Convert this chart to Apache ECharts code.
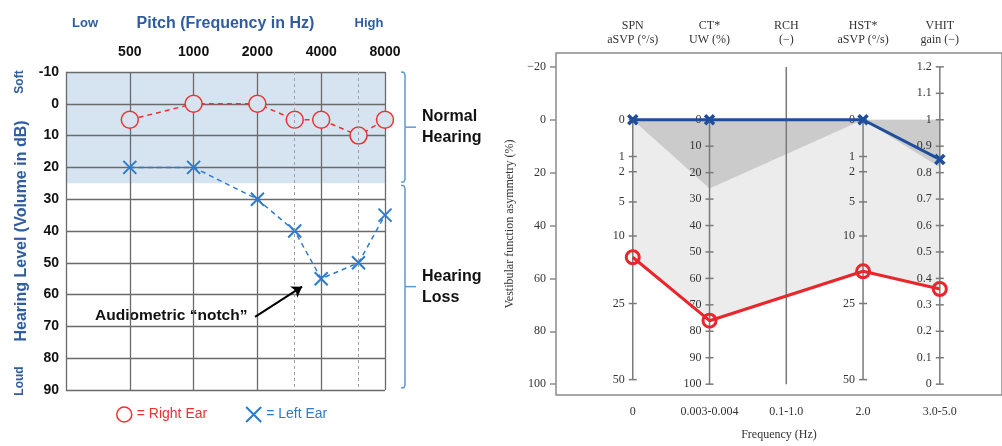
<!DOCTYPE html>
<html><head><meta charset="utf-8">
<script src="https://cdn.jsdelivr.net/npm/echarts@6/dist/echarts.min.js"></script>
<style>html,body{margin:0;padding:0;background:#fff}#c{width:1002px;height:446px}</style>
</head><body><div id="c"></div>
<script>
// ---------- Left chart: audiogram ----------
const freqs = [500, 1000, 2000, 3000, 4000, 6000, 8000];
const rightEar = [5, 0, 0, 5, 5, 10, 5];
const leftEar = [20, 20, 30, 40, 55, 50, 35];
const freqTickLabels = [500, 1000, 2000, 4000, 8000];
const dbTicks = [-10, 0, 10, 20, 30, 40, 50, 60, 70, 80, 90];
const interOctaveFreqs = [3000, 6000];
const normalRange = [-10, 25];
const lossRange = [25, 90];
const bracketLabels = ['Normal\nHearing', 'Hearing\nLoss'];
const notchArrow = [[1950, 67], [3250, 57.5]];

// ---------- Right chart: vestibular test battery ----------
const tests = ['SPN\naSVP (°/s)', 'CT*\nUW (%)', 'RCH\n(\u2212)', 'HST*\naSVP (°/s)', 'VHIT\ngain (\u2212)'];
const freqBands = ['0', '0.003-0.004', '0.1-1.0', '2.0', '3.0-5.0'];
const patientRed = [14, 76, null, 17, 0.36];
const patientBlue = [0, 0, null, 0, 0.85];
const normalLimit = [0, 26, null, 0, 0.82];
const asymTicks = [-20, 0, 20, 40, 60, 80, 100];
const spnTicks = [0, 1, 2, 5, 10, 25, 50];
const ctTicks = [0, 10, 20, 30, 40, 50, 60, 70, 80, 90, 100];
const hstTicks = [0, 1, 2, 5, 10, 25, 50];
const vhitTicks = [1.2, 1.1, 1, 0.9, 0.8, 0.7, 0.6, 0.5, 0.4, 0.3, 0.2, 0.1, 0];

// scale mappings from each test's native unit to asymmetry (%)
const sqrtMap = v => 13.9 * Math.sqrt(v);
const lin = v => v;
const vhitMap = v => (1 - v) * 100;
const maps = [sqrtMap, lin, lin, sqrtMap, vhitMap];
const axesDef = [
  { ticks: spnTicks, map: sqrtMap, range: [0, 50] },
  { ticks: ctTicks, map: lin, range: [0, 100] },
  { ticks: [], map: lin, range: [-20, 100] },
  { ticks: hstTicks, map: sqrtMap, range: [0, 50] },
  { ticks: vhitTicks, map: vhitMap, range: [1.2, 0] }
];

const fx = f => Math.log2(f / 250);
const BLUE_T = '#2F5D9F';
const SANS = '"Liberation Sans", Arial, sans-serif';
const SERIF = '"Liberation Serif", "Times New Roman", serif';
const toPts = vals => vals.map((v, i) => v === null ? null : [i, maps[i](v)]).filter(Boolean);

const chart = echarts.init(document.getElementById('c'), null, { renderer: 'canvas' });

const option = {
  animation: false,
  backgroundColor: '#fff',
  grid: [
    { left: 66, top: 72, width: 319, height: 318, show: false },
    { left: 556, top: 53, right: -2, bottom: 48, show: true, borderColor: '#8a8a8a', borderWidth: 1.5, backgroundColor: 'transparent' }
  ],
  xAxis: [
    {
      gridIndex: 0, type: 'value', position: 'top', min: 0, max: 5, interval: 1,
      name: 'Pitch (Frequency in Hz)', nameLocation: 'middle', nameGap: 40,
      nameTextStyle: { color: BLUE_T, fontSize: 16, fontWeight: 'bold', fontFamily: SANS },
      axisLine: { show: false, onZero: false }, axisTick: { show: false },
      axisLabel: {
        customValues: freqTickLabels.map(fx), margin: 13,
        formatter: v => String(Math.round(250 * Math.pow(2, v))),
        color: '#111', fontSize: 14, fontWeight: 'bold', fontFamily: SANS
      },
      splitLine: { show: true, lineStyle: { color: '#6a6a6a', width: 1.3 } }
    },
    {
      gridIndex: 1, type: 'value', position: 'bottom', min: -1, max: 4.81,
      name: 'Frequency (Hz)', nameLocation: 'middle', nameGap: 34,
      nameTextStyle: { color: '#333', fontSize: 12, fontFamily: SERIF },
      axisLine: { show: false, onZero: false }, axisTick: { show: false }, splitLine: { show: false },
      axisLabel: {
        customValues: [0, 1, 2, 3, 4], margin: 11,
        formatter: v => freqBands[Math.round(v)],
        color: '#333', fontSize: 12, fontFamily: SERIF
      }
    },
    {
      gridIndex: 1, type: 'value', position: 'top', min: -1, max: 4.81,
      axisLine: { show: false, onZero: false }, axisTick: { show: false }, splitLine: { show: false },
      axisLabel: {
        customValues: [0, 1, 2, 3, 4], margin: 6, lineHeight: 14,
        formatter: v => tests[Math.round(v)],
        color: '#333', fontSize: 12, fontFamily: SERIF
      }
    }
  ],
  yAxis: [
    {
      gridIndex: 0, type: 'value', inverse: true, min: -10, max: 90, interval: 10,
      name: 'Hearing Level (Volume in dB)', nameLocation: 'middle', nameGap: 36,
      nameTextStyle: { color: BLUE_T, fontSize: 16, fontWeight: 'bold', fontFamily: SANS },
      axisLine: { show: false, onZero: false }, axisTick: { show: false },
      axisLabel: { customValues: dbTicks, margin: 7, color: '#111', fontSize: 14, fontWeight: 'bold', fontFamily: SANS },
      splitLine: { show: true, lineStyle: { color: '#6a6a6a', width: 1.3 } }
    },
    {
      gridIndex: 1, type: 'value', inverse: true, min: -25.25, max: 104.1,
      name: 'Vestibular function asymmetry (%)', nameLocation: 'middle', nameGap: 40,
      nameTextStyle: { color: '#333', fontSize: 12, fontFamily: SERIF },
      axisLine: { show: false, onZero: false },
      axisTick: { show: true, customValues: asymTicks, length: 6, lineStyle: { color: '#8a8a8a', width: 1.5 } },
      axisLabel: {
        customValues: asymTicks, margin: 10,
        formatter: v => v < 0 ? '\u2212' + Math.abs(v) : String(v),
        color: '#333', fontSize: 12, fontFamily: SERIF
      },
      splitLine: { show: false }
    }
  ],
  legend: {
    left: 116, top: 406, padding: 0, itemGap: 38, itemWidth: 15, itemHeight: 15,
    textStyle: { fontSize: 14, fontFamily: SANS },
    formatter: n => '= ' + n,
    data: [
      { name: 'Right Ear', icon: 'circle', itemStyle: { color: 'rgba(0,0,0,0)', borderColor: '#EE3030', borderWidth: 1.5 }, textStyle: { color: '#EE3030' } },
      { name: 'Left Ear', icon: 'path://M0,0L10,10M10,0L0,10', itemStyle: { color: 'rgba(0,0,0,0)', borderColor: '#2B7BD0', borderWidth: 2 }, textStyle: { color: '#2B7BD0' } }
    ]
  },
  graphic: [
    { type: 'text', x: 85, y: 23, style: { text: 'Low', align: 'center', verticalAlign: 'middle', fill: BLUE_T, font: 'bold 13px ' + SANS } },
    { type: 'text', x: 369, y: 23, style: { text: 'High', align: 'center', verticalAlign: 'middle', fill: BLUE_T, font: 'bold 13px ' + SANS } },
    { type: 'text', x: 20, y: 82, rotation: Math.PI / 2, style: { text: 'Soft', align: 'center', verticalAlign: 'middle', fill: BLUE_T, font: 'bold 12px ' + SANS } },
    { type: 'text', x: 20, y: 381, rotation: Math.PI / 2, style: { text: 'Loud', align: 'center', verticalAlign: 'middle', fill: BLUE_T, font: 'bold 12px ' + SANS } },
    { type: 'text', x: 95, y: 316, style: { text: 'Audiometric \u201cnotch\u201d', align: 'left', verticalAlign: 'middle', fill: '#111', font: 'bold 15.5px ' + SANS } }
  ],
  series: [
    {
      name: 'normal zone', type: 'line', xAxisIndex: 0, yAxisIndex: 0, z: -1, silent: true,
      data: [[0, normalRange[1]], [5, normalRange[1]]], symbol: 'none',
      lineStyle: { width: 0 }, areaStyle: { color: '#D6E4F2', origin: 'start', opacity: 1 },
      markLine: {
        silent: true, symbol: 'none', label: { show: false },
        lineStyle: { color: '#a0a0a0', type: [3, 3], width: 1 },
        data: interOctaveFreqs.map(f => ({ xAxis: fx(f) }))
      }
    },
    {
      name: 'Right Ear', type: 'line', xAxisIndex: 0, yAxisIndex: 0, z: 3,
      data: freqs.map((f, i) => [fx(f), rightEar[i]]),
      symbol: 'circle', symbolSize: 17,
      itemStyle: { color: '#D6E4F2', borderColor: '#EE3030', borderWidth: 1.5 },
      lineStyle: { color: '#EE3030', width: 1.5, type: [5, 4] },
      markLine: {
        silent: true, symbol: ['none', 'arrow'], symbolSize: 10, label: { show: false },
        lineStyle: { color: '#000', width: 2, type: 'solid' },
        data: [[{ coord: [fx(notchArrow[0][0]), notchArrow[0][1]] }, { coord: [fx(notchArrow[1][0]), notchArrow[1][1]] }]]
      }
    },
    {
      name: 'Left Ear', type: 'line', xAxisIndex: 0, yAxisIndex: 0, z: 3,
      data: freqs.map((f, i) => [fx(f), leftEar[i]]),
      symbol: 'path://M0,0L10,10M10,0L0,10', symbolSize: 13,
      itemStyle: { color: 'rgba(0,0,0,0)', borderColor: '#2B7BD0', borderWidth: 2 },
      lineStyle: { color: '#2B7BD0', width: 1.5, type: [5, 4] }
    },
    {
      name: 'brackets', type: 'custom', xAxisIndex: 0, yAxisIndex: 0, clip: false, silent: true,
      data: [[0, normalRange[0], normalRange[1]], [1, lossRange[0], lossRange[1]]],
      renderItem: (params, api) => {
        const idx = api.value(0);
        const a = api.coord([5, api.value(1)]);
        const b = api.coord([5, api.value(2)]);
        const x0 = a[0] + 16, x1 = a[0] + 20, xn = a[0] + 31;
        const top = a[1] + (idx === 0 ? 0 : 2), bot = b[1] - (idx === 0 ? 1 : 2);
        const mid = (top + bot) / 2;
        const st = { stroke: '#5B9BD5', lineWidth: 1.5, fill: null };
        return {
          type: 'group', children: [
            { type: 'polyline', shape: { points: [[x0, top], [x1 - 1, top + 0.5], [x1, top + 3], [x1, bot - 3], [x1 - 1, bot - 0.5], [x0, bot]] }, style: st },
            { type: 'line', shape: { x1: x1, y1: mid, x2: xn, y2: mid }, style: st },
            { type: 'text', x: a[0] + 37, y: mid, style: { text: bracketLabels[idx], align: 'left', verticalAlign: 'middle', lineHeight: 21, fill: '#111', font: 'bold 16px ' + SANS } }
          ]
        };
      }
    },
    {
      name: 'patient area', type: 'line', xAxisIndex: 1, yAxisIndex: 1, z: 1, silent: true,
      data: toPts(patientRed), symbol: 'none', lineStyle: { width: 0 },
      areaStyle: { color: '#ECECEC', opacity: 1 }
    },
    {
      name: 'normal limit', type: 'line', xAxisIndex: 1, yAxisIndex: 1, z: 2, silent: true,
      data: toPts(normalLimit), symbol: 'none', lineStyle: { width: 0 },
      areaStyle: { color: '#CBCBCB', opacity: 1 }
    },
    {
      name: 'parallel axes', type: 'custom', xAxisIndex: 1, yAxisIndex: 1, z: 3, clip: false, silent: true,
      data: [[0, 0], [1, 0], [2, 0], [3, 0], [4, 0]],
      renderItem: (params, api) => {
        const i = api.value(0);
        const d = axesDef[i];
        const p0 = api.coord([i, d.map(d.range[0])]);
        const p1 = api.coord([i, d.map(d.range[1])]);
        const st = { stroke: '#7a7a7a', lineWidth: 1.5 };
        const ch = [{ type: 'line', shape: { x1: p0[0], y1: p0[1], x2: p1[0], y2: p1[1] }, style: st }];
        d.ticks.forEach(t => {
          const p = api.coord([i, d.map(t)]);
          ch.push({ type: 'line', shape: { x1: p[0] - 4, y1: p[1], x2: p[0] + 4, y2: p[1] }, style: st });
          ch.push({ type: 'text', x: p[0] - 8, y: p[1], style: { text: String(t), align: 'right', verticalAlign: 'middle', fill: '#333', font: '12px ' + SERIF } });
        });
        return { type: 'group', children: ch };
      }
    },
    {
      name: 'patient blue', type: 'line', xAxisIndex: 1, yAxisIndex: 1, z: 4,
      data: toPts(patientBlue),
      symbol: 'path://M0,0L10,10M10,0L0,10', symbolSize: 9,
      itemStyle: { color: 'rgba(0,0,0,0)', borderColor: '#1F4E9C', borderWidth: 3.5 },
      lineStyle: { color: '#1F4E9C', width: 3 }
    },
    {
      name: 'patient red', type: 'line', xAxisIndex: 1, yAxisIndex: 1, z: 5,
      data: toPts(patientRed),
      symbol: 'circle', symbolSize: 13,
      itemStyle: { color: 'rgba(0,0,0,0)', borderColor: '#E8262B', borderWidth: 3 },
      lineStyle: { color: '#E8262B', width: 3 }
    }
  ]
};
chart.setOption(option);
</script>
</body></html>
